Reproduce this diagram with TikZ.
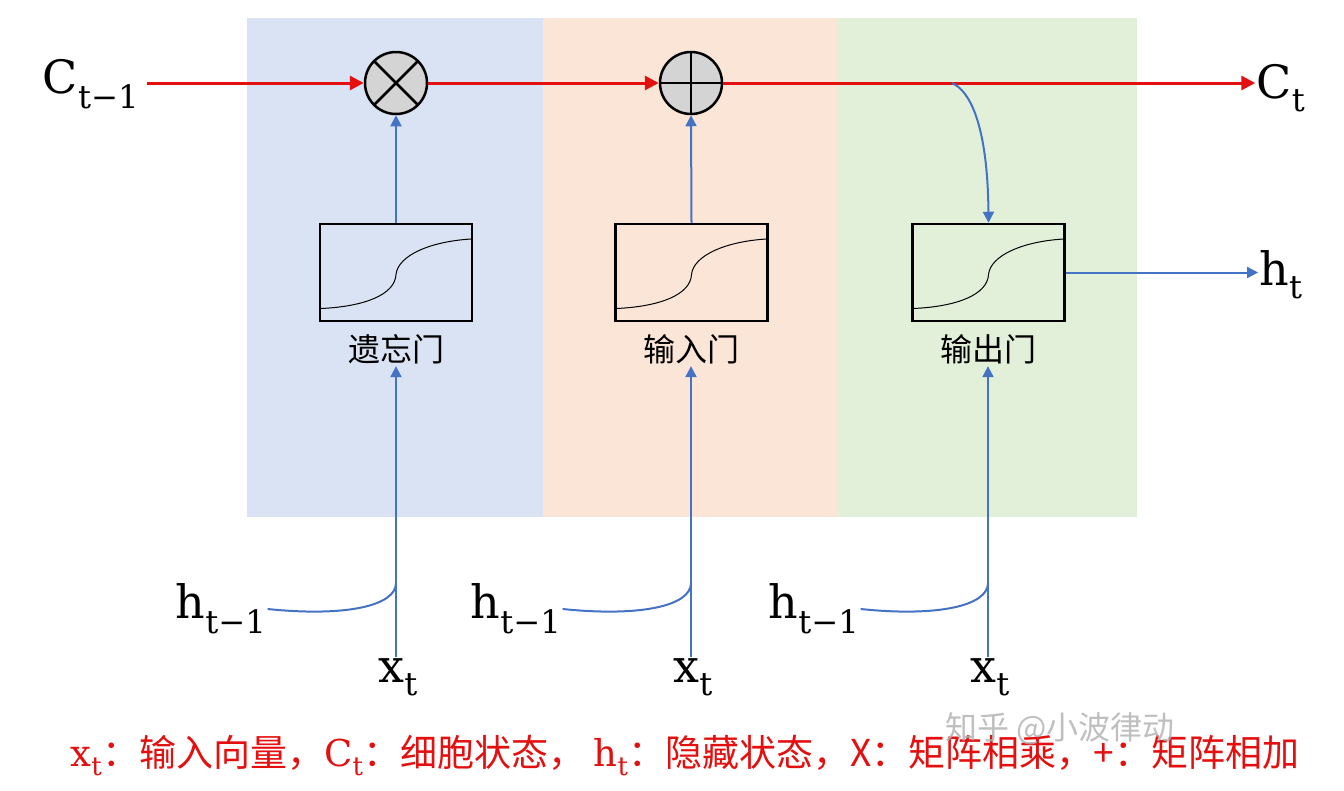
\documentclass[tikz,border=0pt]{standalone}
\usepackage{fontspec}
\usetikzlibrary{arrows.meta}
\newfontfamily\cjk{Noto Sans CJK SC}
\newfontfamily\lblfont{DejaVu Serif}

\definecolor{panelblue}{RGB}{218,227,243}
\definecolor{panelorange}{RGB}{251,229,214}
\definecolor{panelgreen}{RGB}{226,240,217}
\definecolor{cellred}{RGB}{228,16,16}
\definecolor{linkblue}{RGB}{68,114,196}

\tikzset{every picture/.style={line width=0.75pt}}
\tikzset{
  gatebox/.style={draw=black, line width=2.5pt, minimum width=152pt, minimum height=97pt, inner sep=0pt},
  opcircle/.style={circle, draw=black, line width=2.5pt, fill={rgb,255:red,212;green,212;blue,212}, minimum size=62pt, inner sep=0pt},
  redline/.style={draw=cellred, line width=3pt, -{Triangle[length=14pt,width=14pt]}},
  blueline/.style={draw=linkblue, line width=2pt, -{Triangle[length=11pt,width=11pt]}},
  bluewire/.style={draw=linkblue, line width=2pt},
  mathlbl/.style={font=\lblfont\fontsize{46}{54}\selectfont, inner sep=1pt},
  gatelbl/.style={font=\cjk\fontsize{32}{38}\selectfont, inner sep=2pt},
}
\newcommand{\sigcurve}[1]{%
  \draw[line width=1pt, shift={(#1.center)}] (-75,36) .. controls (-31,34) and (-1,22) .. (0,2) .. controls (2,-17) and (34,-31) .. (75,-33.5);}
\newcommand{\lsub}[2]{#1\textsubscript{#2}}

\begin{document}
\begin{tikzpicture}[x=1pt,y=1pt,yscale=-1]
\useasboundingbox (0,0) rectangle (1344,790);

% Panels
\fill[panelblue]   (247,18) rectangle (543,517);
\fill[panelorange] (543,18) rectangle (838,517);
\fill[panelgreen]  (838,18) rectangle (1137,517);

% Cell state operators
\node[opcircle, path picture={\draw[line width=2.5pt] (path picture bounding box.north west) -- (path picture bounding box.south east) (path picture bounding box.north east) -- (path picture bounding box.south west);}] (mul) at (396,83) {};
\node[opcircle, path picture={\draw[line width=2.5pt] (path picture bounding box.north) -- (path picture bounding box.south) (path picture bounding box.west) -- (path picture bounding box.east);}] (add) at (691,83) {};

% Gates
\node[gatebox] (forget) at (396,272.5) {};
\node[gatebox] (input)  at (691.5,272.5) {};
\node[gatebox] (output) at (988.5,272.5) {};
\sigcurve{forget}
\sigcurve{input}
\sigcurve{output}

% Gate labels
\node[gatelbl] (lforget) at (396,349) {遗忘门};
\node[gatelbl] (linput)  at (691,349) {输入门};
\node[gatelbl] (loutput) at (988,349) {输出门};

% Text Node
\node[mathlbl] (cprev) at (91,84) {\lsub{C}{t−1}};
\node[mathlbl] (cnext) at (1281,88) {\lsub{C}{t}};
\node[mathlbl] (hnext) at (1281,275) {\lsub{h}{t}};

% Text Node
\node[mathlbl] (hp1) at (221,609) {\lsub{h}{t−1}};
\node[mathlbl] (hp2) at (516,609) {\lsub{h}{t−1}};
\node[mathlbl] (hp3) at (814,609) {\lsub{h}{t−1}};
\node[mathlbl] (xt1) at (398,677) {\lsub{x}{t}};
\node[mathlbl] (xt2) at (693,677) {\lsub{x}{t}};
\node[mathlbl] (xt3) at (990,677) {\lsub{x}{t}};

% Junctions
\coordinate (j1) at (396,583);
\coordinate (j2) at (691,583);
\coordinate (j3) at (988,583);
\coordinate (tap) at (952,83);
\coordinate (cstart) at (147,83);

% Cell state line
\draw[redline] (cstart) -- (mul.west);
\draw[redline] (mul.east) -- (add.west);
\draw[redline] (add.east) -- (cnext.west |- add.east);

% Gate to operator
\draw[blueline] (forget.north) -- (mul.south);
\draw[blueline] (input.north) -- (add.south);
\draw[blueline] (tap) .. controls (978,95) and (988,150) .. (output.north);
\draw[blueline] (output.east) -- (hnext.west |- output.east);

% Inputs
\draw[blueline] (xt1.north -| j1) -- (lforget.south);
\draw[blueline] (xt2.north -| j2) -- (linput.south);
\draw[blueline] (xt3.north -| j3) -- (loutput.south);
\draw[bluewire] (hp1.east) .. controls (345,617) and (396,606) .. (j1);
\draw[bluewire] (hp2.east) .. controls (640,617) and (691,606) .. (j2);
\draw[bluewire] (hp3.east) .. controls (937,617) and (988,606) .. (j3);

% Legend
\node[text=cellred, font=\cjk\fontsize{37}{42}\selectfont, inner sep=0pt] (legend) at (685,756)
  {{\lblfont\lsub{x}{t}}：输入向量，{\lblfont\lsub{C}{t}}：细胞状态，\ {\lblfont\lsub{h}{t}}：隐藏状态，X：矩阵相乘，+：矩阵相加};

% Watermark
\node[text={rgb,255:red,175;green,175;blue,175}, opacity=0.8, font=\cjk\fontsize{32}{38}\selectfont, inner sep=0pt] (mark) at (1060,729) {知乎 @小波律动};

\end{tikzpicture}
\end{document}
